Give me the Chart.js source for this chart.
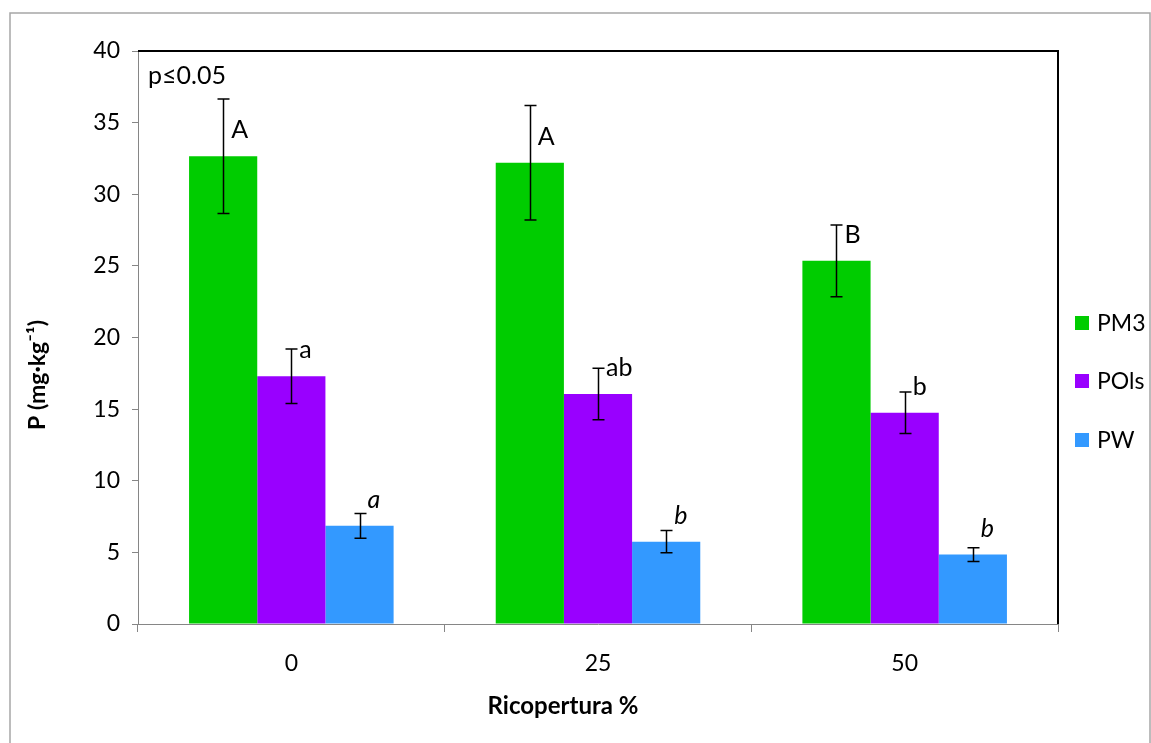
<!DOCTYPE html>
<html>
<head>
<meta charset="utf-8">
<script src="https://cdn.jsdelivr.net/npm/chart.js@4.4.1/dist/chart.umd.min.js"></script>
<style>
  html, body { margin: 0; padding: 0; background: #ffffff; }
  #wrap { width: 1151px; height: 743px; position: relative; }
</style>
</head>
<body>
<div id="wrap"><canvas id="c" width="1151" height="743"></canvas></div>
<script>
// Ricopertura (%) categories
const categories = ['0', '25', '50'];

// Mean P content (mg·kg⁻¹) per method
const pm3 = [32.65, 32.2, 25.35];
const pols = [17.3, 16.05, 14.75];
const pw = [6.85, 5.75, 4.85];

// Standard errors
const pm3Err = [4.0, 4.0, 2.5];
const polsErr = [1.9, 1.8, 1.45];
const pwErr = [0.87, 0.77, 0.48];

// Significance letters (p≤0.05)
const pm3Letters = ['A', 'A', 'B'];
const polsLetters = ['a', 'ab', 'b'];
const pwLetters = ['a', 'b', 'b'];

const yTicks = [0, 5, 10, 15, 20, 25, 30, 35, 40];

const xTitle = 'Ricopertura %';
const yTitle = 'P (mg\u00b7kg\u207b\u00b9)';

const FONT = 'Lato, "Open Sans", sans-serif';

// Error bars, significance letters, axis titles, frame, plot border and legend
const decorations = {
  id: 'decorations',
  afterDatasetsDraw(chart) {
    const ctx = chart.ctx;
    const y = chart.scales.y;
    chart.data.datasets.forEach((ds, di) => {
      const meta = chart.getDatasetMeta(di);
      meta.data.forEach((bar, i) => {
        const v = ds.data[i];
        const e = ds.errors[i];
        const yTop = y.getPixelForValue(v + e);
        const yBot = y.getPixelForValue(v - e);
        const x = Math.round(bar.x) + 0.5;
        ctx.save();
        ctx.strokeStyle = '#000000';
        ctx.lineWidth = 1.5;
        ctx.beginPath();
        ctx.moveTo(x, yTop); ctx.lineTo(x, yBot);
        ctx.moveTo(x - 6, yTop); ctx.lineTo(x + 6, yTop);
        ctx.moveTo(x - 6, yBot); ctx.lineTo(x + 6, yBot);
        ctx.stroke();
        // letter
        ctx.fillStyle = '#000000';
        ctx.font = (ds.italicLetters ? 'italic ' : '') + '25px ' + FONT;
        ctx.textAlign = 'left';
        ctx.textBaseline = 'alphabetic';
        ctx.fillText(ds.letters[i], bar.x + 8, bar.y - 18);
        ctx.restore();
      });
    });
  },
  afterDraw(chart) {
    const ctx = chart.ctx;
    const a = chart.chartArea;
    ctx.save();
    // outer frame
    ctx.strokeStyle = '#a6a6a6';
    ctx.lineWidth = 1.5;
    ctx.strokeRect(10, 13, 1140, 760);
    // plot border, top and right
    ctx.strokeStyle = '#000000';
    ctx.lineWidth = 2;
    ctx.beginPath();
    ctx.moveTo(a.left, a.top);
    ctx.lineTo(a.right, a.top);
    ctx.lineTo(a.right, a.bottom);
    ctx.stroke();
    // axis titles
    ctx.fillStyle = '#000000';
    ctx.font = 'bold 24px ' + FONT;
    ctx.textAlign = 'center';
    ctx.textBaseline = 'middle';
    ctx.fillText(xTitle, 563, 706);
    ctx.save();
    ctx.translate(38, 375);
    ctx.rotate(-Math.PI / 2);
    ctx.font = 'bold 23px ' + FONT;
    ctx.fillText(yTitle, 0, 0);
    ctx.restore();
    // significance note
    ctx.font = '25px ' + FONT;
    ctx.textAlign = 'left';
    ctx.textBaseline = 'middle';
    ctx.fillText('p\u22640.05', a.left + 10, a.top + 25);
    // legend
    const legendY = [323, 381, 440];
    chart.data.datasets.forEach((ds, di) => {
      ctx.fillStyle = ds.backgroundColor;
      ctx.fillRect(1075, legendY[di] - 7, 14, 14);
      ctx.fillStyle = '#000000';
      ctx.font = '23px ' + FONT;
      ctx.textBaseline = 'middle';
      ctx.fillText(ds.label, 1097, legendY[di] + 1);
    });
    ctx.restore();
  }
};

new Chart(document.getElementById('c'), {
  type: 'bar',
  data: {
    labels: categories,
    datasets: [
      { label: 'PM3', data: pm3, errors: pm3Err, letters: pm3Letters, backgroundColor: '#00cc00' },
      { label: 'POls', data: pols, errors: polsErr, letters: polsLetters, backgroundColor: '#9900ff' },
      { label: 'PW', data: pw, errors: pwErr, letters: pwLetters, italicLetters: true, backgroundColor: '#3399ff' }
    ]
  },
  options: {
    responsive: false,
    animation: false,
    devicePixelRatio: 1,
    layout: { padding: { left: 20, top: 51, right: 93, bottom: 0 } },
    datasets: { bar: { categoryPercentage: 0.667, barPercentage: 1.0, borderWidth: 0 } },
    plugins: { legend: { display: false }, tooltip: { enabled: false } },
    scales: {
      x: {
        grid: { display: true, drawOnChartArea: false, offset: true, color: '#868686', tickLength: 8, lineWidth: 1 },
        border: { display: true, color: '#868686', width: 1 },
        ticks: { color: '#000000', font: { family: FONT, size: 23 }, padding: 18 },
        afterFit(scale) { scale.height = 119; }
      },
      y: {
        min: 0, max: 40,
        afterBuildTicks(scale) { scale.ticks = yTicks.map(v => ({ value: v })); },
        grid: { display: true, drawOnChartArea: false, color: '#868686', tickLength: 6, lineWidth: 1 },
        border: { display: true, color: '#868686', width: 1 },
        ticks: { color: '#000000', font: { family: FONT, size: 23 }, padding: 12 },
        afterFit(scale) { scale.width = 118; }
      }
    }
  },
  plugins: [decorations]
});
</script>
</body>
</html>
